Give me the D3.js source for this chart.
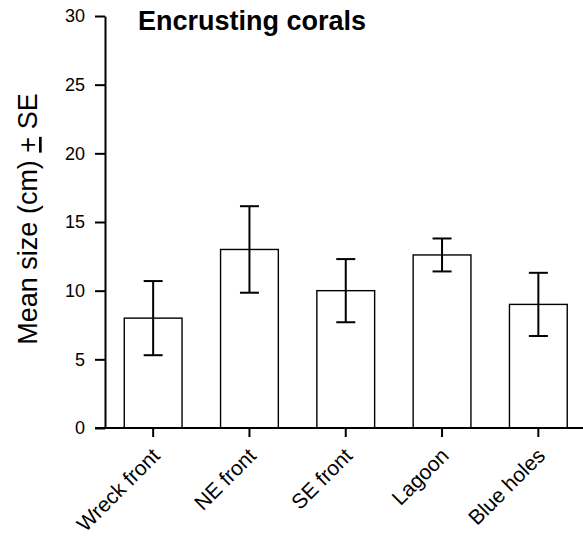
<!DOCTYPE html>
<html><head><meta charset="utf-8">
<script src="https://cdnjs.cloudflare.com/ajax/libs/d3/7.8.5/d3.min.js"></script>
<style>body{margin:0;background:#fff;} svg{display:block;font-family:Arial,"Liberation Sans",sans-serif;}</style>
</head><body>
<script>
const categories = ["Wreck front","NE front","SE front","Lagoon","Blue holes"];
const means = [8.0, 13.0, 10.0, 12.6, 9.0];
const errors = [2.7, 3.15, 2.3, 1.2, 2.3];
const yTicks = [0,5,10,15,20,25,30];
const title = "Encrusting corals";
const yLabelParts = ["Mean size (cm) ", "+", " SE"];

const W = 583, H = 540;
const FONT = "Arial, 'Liberation Sans', sans-serif";
const svg = d3.select("body").append("svg").attr("width", W).attr("height", H);

const x0 = 105, yBase = 428, yTop = 16;
const x = d3.scaleBand().domain(categories).range([x0, x0 + 5*96.3]).paddingInner(0.4).paddingOuter(0.2);
const y = d3.scaleLinear().domain([0,30]).range([yBase, yTop]);

// bars
svg.append("g").selectAll("rect").data(categories).join("rect")
  .attr("x", d => x(d)).attr("width", x.bandwidth())
  .attr("y", (d,i) => y(means[i])).attr("height", (d,i) => y(0) - y(means[i]))
  .attr("fill", "#fff").attr("stroke", "#000").attr("stroke-width", 1.4);

// error bars
const eb = svg.append("g").attr("stroke", "#000").attr("stroke-width", 2);
categories.forEach((c,i) => {
  const cx = x(c) + x.bandwidth()/2;
  const lo = y(means[i]-errors[i]), hi = y(means[i]+errors[i]);
  eb.append("line").attr("x1", cx).attr("x2", cx).attr("y1", lo).attr("y2", hi);
  eb.append("line").attr("x1", cx-9.5).attr("x2", cx+9.5).attr("y1", lo).attr("y2", lo);
  eb.append("line").attr("x1", cx-9.5).attr("x2", cx+9.5).attr("y1", hi).attr("y2", hi);
});

// y axis
const ya = svg.append("g").attr("transform", `translate(${x0},0)`)
  .call(d3.axisLeft(y).tickValues(yTicks).tickSize(10).tickSizeOuter(0).tickPadding(10));
ya.select(".domain").attr("stroke-width", 2);
ya.selectAll(".tick line").attr("stroke-width", 2);
ya.selectAll("text").attr("font-size", 18).attr("font-family", FONT).attr("fill", "#000");

// x axis
const xa = svg.append("g").attr("transform", `translate(0,${yBase})`)
  .call(d3.axisBottom(x).tickSize(9).tickSizeOuter(0).tickPadding(0));
xa.select(".domain").attr("d", `M95,0H${W}`).attr("stroke-width", 2);
xa.selectAll(".tick line").attr("stroke-width", 2);
xa.selectAll("text").attr("font-size", 21).attr("font-family", FONT).attr("fill", "#000")
  .attr("text-anchor", "end").attr("y", 0).attr("dy", 0)
  .attr("transform", "translate(8,29) rotate(-45)");

// title
svg.append("text").attr("x", 138).attr("y", 30).attr("font-size", 27).attr("font-weight", "bold")
  .attr("font-family", FONT).text(title);

// y label
const yl = svg.append("text").attr("transform", "translate(37,219) rotate(-90)").attr("text-anchor", "middle")
  .attr("font-size", 27).attr("font-family", FONT);
yl.append("tspan").text(yLabelParts[0]);
yl.append("tspan").attr("text-decoration", "underline").text(yLabelParts[1]);
yl.append("tspan").text(yLabelParts[2]);
</script>
</body></html>
